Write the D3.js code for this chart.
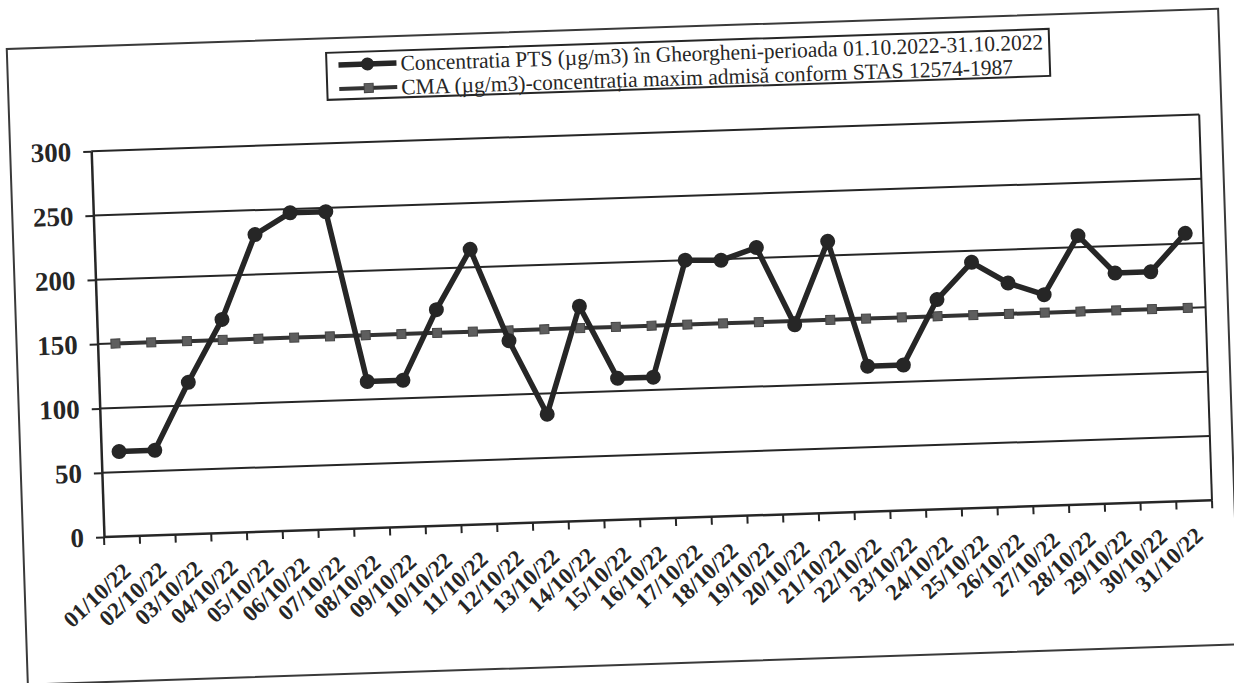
<!DOCTYPE html>
<html>
<head>
<meta charset="utf-8">
<script src="https://cdn.jsdelivr.net/npm/d3@7"></script>
<style>
    html, body { margin: 0; padding: 0; background: #fff; }
    svg { display: block; }
</style>
</head>
<body>
<div id="chart"></div>
<script>
const days = ["01/10/22", "02/10/22", "03/10/22", "04/10/22", "05/10/22", "06/10/22", "07/10/22",
    "08/10/22", "09/10/22", "10/10/22", "11/10/22", "12/10/22", "13/10/22", "14/10/22", "15/10/22",
    "16/10/22", "17/10/22", "18/10/22", "19/10/22", "20/10/22", "21/10/22", "22/10/22", "23/10/22",
    "24/10/22", "25/10/22", "26/10/22", "27/10/22", "28/10/22", "29/10/22", "30/10/22", "31/10/22"];
const ptsValues = [66, 66, 118, 166, 231, 247, 247, 114, 114, 168, 214, 142, 84, 167, 110,
    110, 200, 199, 208, 147, 211, 113, 113, 163, 191, 174, 164, 209, 179, 179, 208];
const cmaValues = [150, 150, 150, 150, 150, 150, 150, 150, 150, 150, 150, 150, 150, 150, 150,
    150, 150, 150, 150, 150, 150, 150, 150, 150, 150, 150, 150, 150, 150, 150, 150];
const yTicks = [0, 50, 100, 150, 200, 250, 300];
const legendLabels = [
    "Concentratia PTS (µg/m3) în Gheorgheni-perioada 01.10.2022-31.10.2022",
    "CMA (µg/m3)-concentrația maxim admisă conform STAS 12574-1987"
];

const width = 1234;
const height = 683;
const plot = {left: 104, right: 1212.6, top: 151, bottom: 537};
const tilt = -1.9; // the scanned page is slightly rotated
const ink = "#262626";
const serif = "'Liberation Serif', 'Times New Roman', serif";

const svg = d3.select("#chart").append("svg")
    .attr("width", width)
    .attr("height", height)
    .attr("viewBox", [0, 0, width, height]);

const g = svg.append("g")
    .attr("transform", `rotate(${tilt},${plot.left},${plot.bottom})`);

const x = d3.scaleBand()
    .domain(days)
    .range([plot.left, plot.right]);

const y = d3.scaleLinear()
    .domain([0, 300])
    .range([plot.bottom, plot.top]);

const cx = d => x(d) + x.bandwidth() / 2;

// outer frame
g.append("rect")
    .attr("x", 23)
    .attr("y", 46)
    .attr("width", 1212)
    .attr("height", 636)
    .attr("fill", "none")
    .attr("stroke", "#3a3a3a")
    .attr("stroke-width", 2);

// grid lines
g.append("g")
    .selectAll("line")
    .data(yTicks.slice(1))
    .join("line")
    .attr("x1", plot.left)
    .attr("x2", plot.right)
    .attr("y1", d => y(d))
    .attr("y2", d => y(d))
    .attr("stroke", ink)
    .attr("stroke-width", 2);

// right border of plot area
g.append("line")
    .attr("x1", plot.right)
    .attr("x2", plot.right)
    .attr("y1", plot.top)
    .attr("y2", plot.bottom)
    .attr("stroke", ink)
    .attr("stroke-width", 2);

// y axis
const yAxis = g.append("g")
    .attr("transform", `translate(${plot.left},0)`)
    .call(d3.axisLeft(y).tickValues(yTicks).tickSize(8).tickPadding(12).tickSizeOuter(0));
yAxis.select(".domain").attr("stroke", ink).attr("stroke-width", 2.5);
yAxis.selectAll(".tick line").attr("stroke", ink).attr("stroke-width", 2);
yAxis.selectAll(".tick text")
    .attr("fill", ink)
    .style("font-family", serif)
    .style("font-weight", "bold")
    .style("font-size", "27px");

// x axis, ticks between categories
const xAxis = g.append("g")
    .attr("transform", `translate(0,${plot.bottom})`);
xAxis.append("line")
    .attr("x1", plot.left)
    .attr("x2", plot.right)
    .attr("stroke", ink)
    .attr("stroke-width", 2.5);
xAxis.selectAll("line.tick")
    .data(days)
    .join("line")
    .attr("class", "tick")
    .attr("x1", d => x(d))
    .attr("x2", d => x(d))
    .attr("y1", 0)
    .attr("y2", 8)
    .attr("stroke", ink)
    .attr("stroke-width", 2);
xAxis.append("line")
    .attr("x1", plot.right)
    .attr("x2", plot.right)
    .attr("y1", 0)
    .attr("y2", 8)
    .attr("stroke", ink)
    .attr("stroke-width", 2);
xAxis.selectAll("text")
    .data(days)
    .join("text")
    .attr("transform", d => `translate(${cx(d) + 9},37) rotate(-41)`)
    .attr("text-anchor", "end")
    .attr("fill", ink)
    .style("font-family", serif)
    .style("font-weight", "bold")
    .style("font-size", "23px")
    .text(d => d);

// CMA series
const cmaLine = d3.line()
    .x((d, i) => cx(days[i]))
    .y(d => y(d));

g.append("path")
    .datum(cmaValues)
    .attr("fill", "none")
    .attr("stroke", "#333")
    .attr("stroke-width", 4)
    .attr("d", cmaLine);

g.append("g")
    .selectAll("rect")
    .data(cmaValues)
    .join("rect")
    .attr("x", (d, i) => cx(days[i]) - 4.5)
    .attr("y", d => y(d) - 4.5)
    .attr("width", 9)
    .attr("height", 9)
    .attr("fill", "#5e5e5e")
    .attr("stroke", "#444")
    .attr("stroke-width", 1);

// PTS series
const ptsLine = d3.line()
    .x((d, i) => cx(days[i]))
    .y(d => y(d));

g.append("path")
    .datum(ptsValues)
    .attr("fill", "none")
    .attr("stroke", ink)
    .attr("stroke-width", 5.5)
    .attr("stroke-linejoin", "round")
    .attr("d", ptsLine);

g.append("g")
    .selectAll("circle")
    .data(ptsValues)
    .join("circle")
    .attr("cx", (d, i) => cx(days[i]))
    .attr("cy", d => y(d))
    .attr("r", 7.5)
    .attr("fill", ink);

// legend
const legend = g.append("g");
legend.append("rect")
    .attr("x", 342)
    .attr("y", 60.5)
    .attr("width", 723)
    .attr("height", 47)
    .attr("fill", "#fff")
    .attr("stroke", ink)
    .attr("stroke-width", 2);

const legendRows = [73, 97];
const legendWidths = [643, 612];

legendRows.forEach((ly, i) => {
    legend.append("line")
        .attr("x1", 354)
        .attr("x2", 412)
        .attr("y1", ly)
        .attr("y2", ly)
        .attr("stroke", i === 0 ? ink : "#333")
        .attr("stroke-width", i === 0 ? 5.5 : 4);
    if (i === 0) {
        legend.append("circle")
            .attr("cx", 383)
            .attr("cy", ly)
            .attr("r", 6.5)
            .attr("fill", ink);
    } else {
        legend.append("rect")
            .attr("x", 379)
            .attr("y", ly - 4.5)
            .attr("width", 9)
            .attr("height", 9)
            .attr("fill", "#5e5e5e")
            .attr("stroke", "#444");
    }
    legend.append("text")
        .attr("x", 416)
        .attr("y", ly)
        .attr("dy", "0.35em")
        .attr("textLength", legendWidths[i])
        .attr("lengthAdjust", "spacingAndGlyphs")
        .attr("fill", ink)
        .style("font-family", serif)
        .style("font-size", "22px")
        .text(legendLabels[i]);
});
</script>
</body>
</html>
